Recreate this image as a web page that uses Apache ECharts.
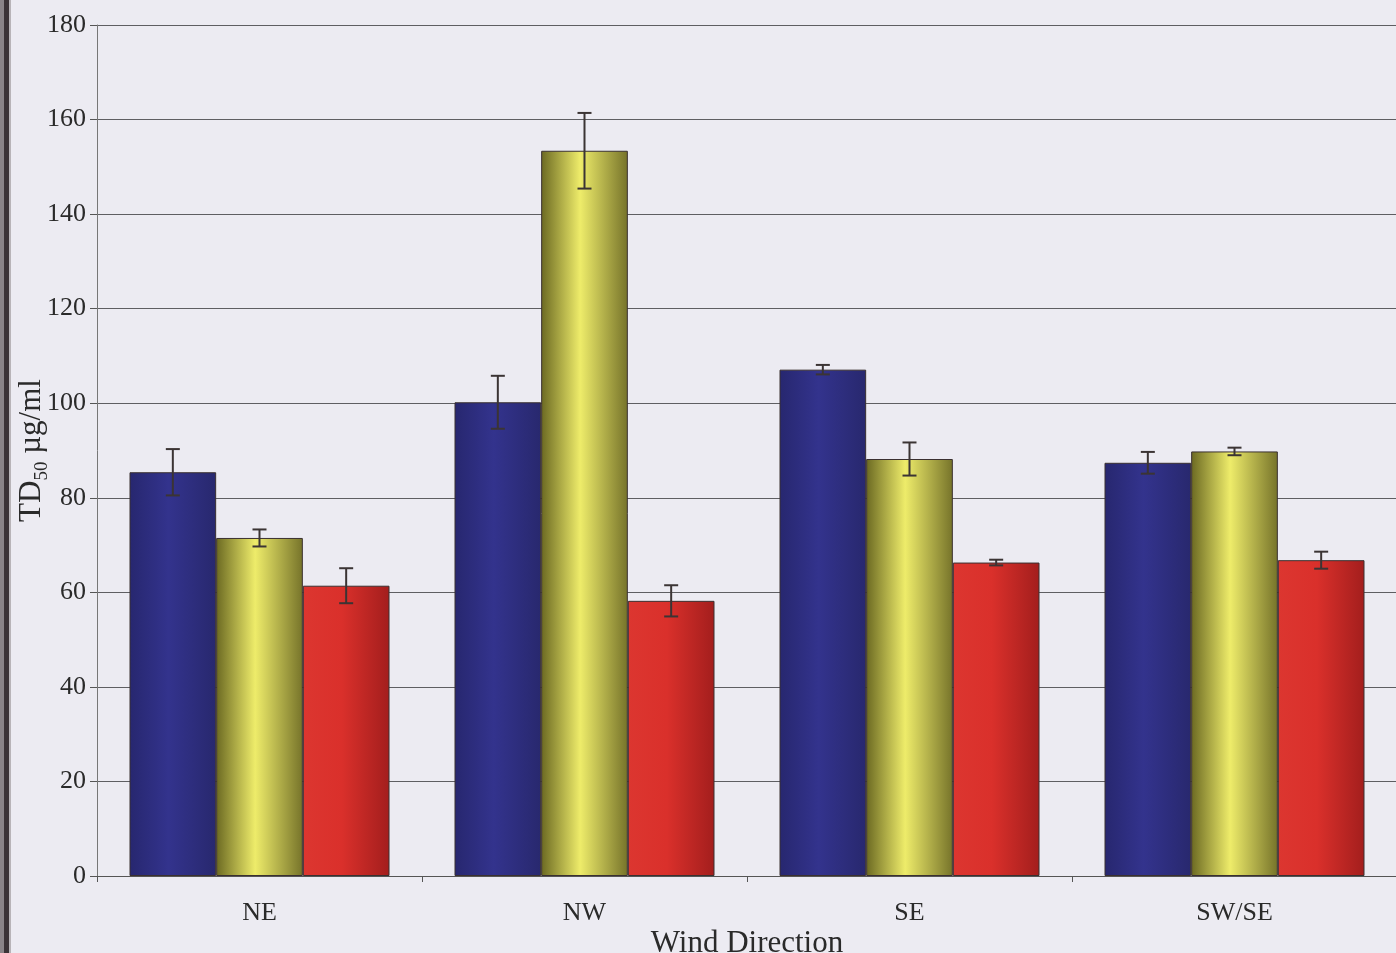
<!DOCTYPE html>
<html>
<head>
<meta charset="utf-8">
<title>TD50 by wind direction</title>
<script src="https://cdn.jsdelivr.net/npm/echarts@6/dist/echarts.min.js"></script>
<style>
  html, body { margin: 0; padding: 0; background: #ecebf2; }
  #chart { width: 1396px; height: 953px; }
</style>
</head>
<body>
<div id="chart"></div>
<script>
// Wind-direction sampling sites
const categories = ['NE', 'NW', 'SE', 'SW/SE'];

// Mean TD50 (µg/ml) for the three fractions at each site
const blueValues   = [85.4, 100.2, 107.1, 87.4];
const yellowValues = [71.5, 153.4, 88.2, 89.8];
const redValues    = [61.4, 58.2, 66.3, 66.8];

// Error bar half-widths (µg/ml)
const blueErr   = [4.9, 5.6, 1.0, 2.3];
const yellowErr = [1.8, 8.0, 3.5, 0.8];
const redErr    = [3.7, 3.3, 0.6, 1.8];

const yTicks = [0, 20, 40, 60, 80, 100, 120, 140, 160, 180];

const serif = '"Liberation Serif", "DejaVu Serif", serif';
const GAP = 0.2;     // barCategoryGap as a fraction
const NSERIES = 3;

function cylinder(edge, mid, edge2) {
  return new echarts.graphic.LinearGradient(0, 0, 1, 0, [
    { offset: 0, color: edge },
    { offset: 0.45, color: mid },
    { offset: 1, color: edge2 }
  ]);
}

const barStyles = [
  cylinder('#27276f', '#33338d', '#28286e'),
  cylinder('#6b6922', '#eeec6a', '#76732a'),
  cylinder('#dc3630', '#da302b', '#a31e1d')
];

function barSeries(values, idx) {
  return {
    type: 'bar',
    data: values,
    barGap: '0%',
    barCategoryGap: (GAP * 100) + '%',
    itemStyle: { color: barStyles[idx], borderColor: '#3a3030', borderWidth: 1 },
    z: 2
  };
}

function errSeries(values, errs, idx) {
  return {
    type: 'custom',
    data: values.map((v, i) => [i, v - errs[i], v + errs[i]]),
    z: 5,
    renderItem: function (params, api) {
      const band = api.size([1, 0])[0];
      const barW = band * (1 - GAP) / NSERIES;
      const off = (idx - (NSERIES - 1) / 2) * barW;
      const lo = api.coord([api.value(0), api.value(1)]);
      const hi = api.coord([api.value(0), api.value(2)]);
      const x = lo[0] + off;
      const cap = 7;
      const style = { stroke: '#3b3434', lineWidth: 2 };
      return {
        type: 'group',
        children: [
          { type: 'line', shape: { x1: x, y1: hi[1], x2: x, y2: lo[1] }, style: style },
          { type: 'line', shape: { x1: x - cap, y1: hi[1], x2: x + cap, y2: hi[1] }, style: style },
          { type: 'line', shape: { x1: x - cap, y1: lo[1], x2: x + cap, y2: lo[1] }, style: style }
        ]
      };
    }
  };
}

const chart = echarts.init(document.getElementById('chart'));
chart.setOption({
  backgroundColor: '#ecebf2',
  animation: false,
  grid: { left: 97, right: -1, top: 25, bottom: 77, outerBoundsMode: 'none', containLabel: false },
  graphic: [
    { type: 'rect', left: 0, top: 0, shape: { width: 4, height: 953 }, style: { fill: '#8a8488' } },
    { type: 'rect', left: 4, top: 0, shape: { width: 5, height: 953 }, style: { fill: '#3b3337' } },
    { type: 'rect', left: 9, top: 0, shape: { width: 2, height: 953 }, style: { fill: '#b8b4b8' } }
  ],
  xAxis: {
    type: 'category',
    data: categories,
    name: 'Wind Direction',
    nameLocation: 'middle',
    nameGap: 52,
    nameMoveOverlap: false,
    nameTextStyle: { fontFamily: serif, fontSize: 31, color: '#2a2a2a' },
    axisLine: { lineStyle: { color: '#555', width: 1 } },
    axisTick: { show: true, length: 6, lineStyle: { color: '#555' } },
    axisLabel: { fontFamily: serif, fontSize: 26, color: '#2a2a2a', margin: 24 }
  },
  yAxis: {
    type: 'value',
    min: 0,
    max: 180,
    interval: 20,
    name: '{a|TD}{s|50}{a| µg/ml}',
    nameLocation: 'middle',
    nameGap: 50,
    nameMoveOverlap: false,
    nameRotate: 90,
    nameTextStyle: {
      rich: {
        a: { fontFamily: serif, fontSize: 31, color: '#2a2a2a', verticalAlign: 'bottom' },
        s: { fontFamily: serif, fontSize: 19, color: '#2a2a2a', verticalAlign: 'bottom', padding: [0, 0, -5, 0] }
      }
    },
    axisLine: { show: true, lineStyle: { color: '#777', width: 1 } },
    axisTick: { show: true, length: 7, lineStyle: { color: '#555' } },
    axisLabel: {
      fontFamily: serif, fontSize: 26, color: '#2a2a2a', margin: 11,
      formatter: function (v) { return yTicks.indexOf(v) >= 0 ? String(v) : ''; }
    },
    splitLine: { lineStyle: { color: '#5e5e62', width: 1 } }
  },
  series: [
    barSeries(blueValues, 0),
    barSeries(yellowValues, 1),
    barSeries(redValues, 2),
    errSeries(blueValues, blueErr, 0),
    errSeries(yellowValues, yellowErr, 1),
    errSeries(redValues, redErr, 2)
  ]
});
</script>
</body>
</html>
